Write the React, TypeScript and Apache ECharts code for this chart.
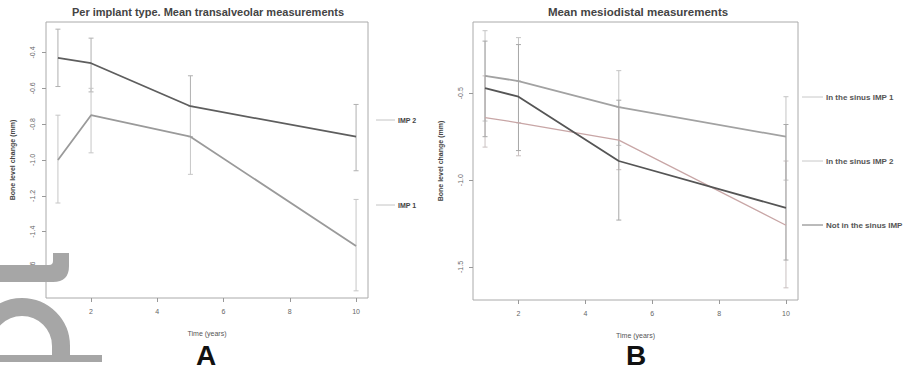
import React, { useEffect, useRef } from "react";
import * as echarts from "echarts";

// ---------- data ----------
const years = [1, 2, 5, 10];
const xTicks = [2, 4, 6, 8, 10];

// Panel A
const leftTitle = "Per implant type. Mean transalveolar measurements";
const leftNames = ["IMP 2", "IMP 1"];
const impAMean = [-0.43, -0.46, -0.7, -0.87];
const impALow = [-0.59, -0.62, -0.87, -1.06];
const impAHigh = [-0.27, -0.32, -0.53, -0.69];
const impBMean = [-1.0, -0.75, -0.87, -1.48];
const impBLow = [-1.24, -0.96, -1.08, -1.73];
const impBHigh = [-0.75, -0.6, -0.7, -1.22];
const leftYTicks = [-1.6, -1.4, -1.2, -1.0, -0.8, -0.6, -0.4];

// Panel B
const rightTitle = "Mean mesiodistal measurements";
const rightNames = ["In the sinus IMP 1", "In the sinus IMP 2", "Not in the sinus IMP 1"];
const sinus1Mean = [-0.4, -0.43, -0.58, -0.75];
const sinus1Low = [-0.66, -0.67, -0.8, -1.0];
const sinus1High = [-0.14, -0.18, -0.37, -0.52];
const sinus2Mean = [-0.64, -0.67, -0.77, -1.26];
const sinus2Low = [-0.81, -0.86, -0.94, -1.62];
const sinus2High = [-0.4, -0.43, -0.58, -0.89];
const notSinusMean = [-0.47, -0.52, -0.89, -1.16];
const notSinusLow = [-0.75, -0.83, -1.23, -1.46];
const notSinusHigh = [-0.2, -0.22, -0.54, -0.68];
const rightYTicks = [-1.5, -1.0, -0.5];

const xTitle = "Time (years)";
const yTitle = "Bone level change (mm)";

const shapeColor = "#a6a6a6";

function pairs(vals: number[]) {
  return years.map((x, i) => [x, vals[i]]);
}
function bars(low: number[], high: number[]) {
  return years.map((x, i) => [x, low[i], high[i]]);
}

function errorSeries(name: string, idx: number, low: number[], high: number[], color: string) {
  return {
    type: "custom",
    name: name + " err",
    xAxisIndex: idx,
    yAxisIndex: idx,
    z: 1,
    silent: true,
    data: bars(low, high),
    renderItem: (params: any, api: any) => {
      const x = api.value(0);
      const lo = api.coord([x, api.value(1)]);
      const hi = api.coord([x, api.value(2)]);
      const w = 2.5;
      const style = { stroke: color, lineWidth: 1 };
      return {
        type: "group",
        children: [
          { type: "line", shape: { x1: lo[0], y1: lo[1], x2: hi[0], y2: hi[1] }, style },
          { type: "line", shape: { x1: lo[0] - w, y1: lo[1], x2: lo[0] + w, y2: lo[1] }, style },
          { type: "line", shape: { x1: hi[0] - w, y1: hi[1], x2: hi[0] + w, y2: hi[1] }, style },
        ],
      };
    },
  };
}

function lineSeries(name: string, idx: number, vals: number[], color: string, width = 1.8) {
  return {
    type: "line",
    name,
    xAxisIndex: idx,
    yAxisIndex: idx,
    z: 3,
    symbol: "none",
    data: pairs(vals),
    lineStyle: { color, width },
    itemStyle: { color },
  };
}

const axisFont = { fontFamily: "Liberation Sans, Arial, sans-serif" };

function xAxis(gridIndex: number) {
  return {
    type: "value",
    gridIndex,
    min: 0.64,
    max: 10.36,
    name: xTitle,
    nameLocation: "middle",
    nameGap: 32,
    nameTextStyle: { fontSize: 7, color: "#555", ...axisFont },
    axisLine: { show: false },
    splitLine: { show: false },
    axisTick: { show: true, inside: false, length: 4, lineStyle: { color: "#999" }, customValues: xTicks },
    axisLabel: { fontSize: 7, color: "#666", margin: 10, customValues: xTicks, ...axisFont },
  };
}

function yAxis(gridIndex: number, min: number, max: number, ticks: number[], nameGap: number, margin: number) {
  return {
    type: "value",
    gridIndex,
    min,
    max,
    name: yTitle,
    nameLocation: "middle",
    nameGap,
    nameRotate: 90,
    nameTextStyle: { fontSize: 7, color: "#444", fontWeight: "bold", ...axisFont },
    axisLine: { show: false },
    splitLine: { show: false },
    axisTick: { show: true, inside: false, length: 4, lineStyle: { color: "#999" }, customValues: ticks },
    axisLabel: {
      fontSize: 7,
      color: "#666",
      rotate: 90,
      margin,
      customValues: ticks,
      formatter: (v: number) => v.toFixed(1),
      ...axisFont,
    },
  };
}

export default function App() {
  const ref = useRef<HTMLDivElement>(null);
  useEffect(() => {
    if (!ref.current) return;
    echarts.graphic.registerShape(
      "hookShape",
      echarts.graphic.extendPath(
        "M53 253 L69 253 L69 266 Q69 282 53 282 L0 282 L0 265 L49 265 Q53 265 53 261 Z",
        {}
      )
    );
    const chart = echarts.init(ref.current, null, { renderer: "svg" });

    const leftColors = ["#5e5e5e", "#9a9a9a"];
    const rightColors = ["#a2a2a2", "#c8a6a6", "#555555"];

    const legendItems: any[] = [];
    const leftLegendY = [120, 205];
    leftNames.forEach((n, i) => {
      legendItems.push({
        type: "line",
        shape: { x1: 376, y1: leftLegendY[i], x2: 395, y2: leftLegendY[i] },
        style: { stroke: "#c4c4c4", lineWidth: 1 },
      });
      legendItems.push({
        type: "text",
        x: 398,
        y: leftLegendY[i],
        style: { text: n, fontSize: 7, fill: "#444", fontWeight: "bold", verticalAlign: "middle", ...axisFont },
      });
    });
    const rightLegendY = [97, 161, 225];
    rightNames.forEach((n, i) => {
      legendItems.push({
        type: "line",
        shape: { x1: 802, y1: rightLegendY[i], x2: 823, y2: rightLegendY[i] },
        style: { stroke: i === 2 ? "#777" : "#c8c8c8", lineWidth: 1 },
      });
      legendItems.push({
        type: "text",
        x: 826,
        y: rightLegendY[i],
        style: { text: n, fontSize: 8, fill: "#555", fontWeight: "bold", verticalAlign: "middle", ...axisFont },
      });
    });

    chart.setOption({
      animation: false,
      backgroundColor: "#ffffff",
      grid: [
        { left: 46, top: 22, width: 322, height: 276, show: true, borderColor: "#aaa", borderWidth: 1, backgroundColor: "transparent" },
        { left: 473, top: 22, width: 325, height: 278, show: true, borderColor: "#aaa", borderWidth: 1, backgroundColor: "transparent" },
      ],
      xAxis: [xAxis(0), xAxis(1)],
      yAxis: [
        yAxis(0, -1.77, -0.23, leftYTicks, 30, 10),
        yAxis(1, -1.69, -0.09, rightYTicks, 29, 9),
      ],
      series: [
        errorSeries(leftNames[0], 0, impALow, impAHigh, "#b0b0b0"),
        errorSeries(leftNames[1], 0, impBLow, impBHigh, "#c6c6c6"),
        lineSeries(leftNames[0], 0, impAMean, leftColors[0]),
        lineSeries(leftNames[1], 0, impBMean, leftColors[1]),
        errorSeries(rightNames[0], 1, sinus1Low, sinus1High, "#c4c4c4"),
        errorSeries(rightNames[1], 1, sinus2Low, sinus2High, "#c9c0c0"),
        errorSeries(rightNames[2], 1, notSinusLow, notSinusHigh, "#a8a8a8"),
        lineSeries(rightNames[0], 1, sinus1Mean, rightColors[0]),
        lineSeries(rightNames[1], 1, sinus2Mean, rightColors[1], 1.3),
        lineSeries(rightNames[2], 1, notSinusMean, rightColors[2]),
      ],
      graphic: [
        {
          type: "text",
          x: 208,
          y: 12,
          style: { text: leftTitle, fontSize: 11, fill: "#444", align: "center", verticalAlign: "middle", fontWeight: "bold", ...axisFont },
        },
        {
          type: "text",
          x: 638,
          y: 12,
          style: { text: rightTitle, fontSize: 11.5, fill: "#444", align: "center", verticalAlign: "middle", fontWeight: "bold", ...axisFont },
        },
        {
          type: "text",
          x: 206,
          y: 341,
          style: { text: "A", fontSize: 28, fill: "#111", align: "center", verticalAlign: "top", fontWeight: "bold", ...axisFont },
        },
        {
          type: "text",
          x: 636,
          y: 341,
          style: { text: "B", fontSize: 28, fill: "#111", align: "center", verticalAlign: "top", fontWeight: "bold", ...axisFont },
        },
        ...legendItems,
        { type: "hookShape", z: 100, style: { fill: shapeColor } },
        {
          type: "arc",
          z: 100,
          shape: { cx: 22, cy: 346, r: 39, startAngle: Math.PI, endAngle: Math.PI * 2 },
          style: { stroke: shapeColor, lineWidth: 18, fill: null },
        },
        { type: "rect", z: 100, shape: { x: 52, y: 345, width: 18, height: 11 }, style: { fill: shapeColor } },
        { type: "rect", z: 100, shape: { x: 0, y: 355, width: 102, height: 7 }, style: { fill: shapeColor } },
      ],
    });
    return () => chart.dispose();
  }, []);
  return (
    <div
      ref={ref}
      style={{ position: "fixed", left: 0, top: 0, width: 904, height: 370, background: "#fff" }}
    />
  );
}
